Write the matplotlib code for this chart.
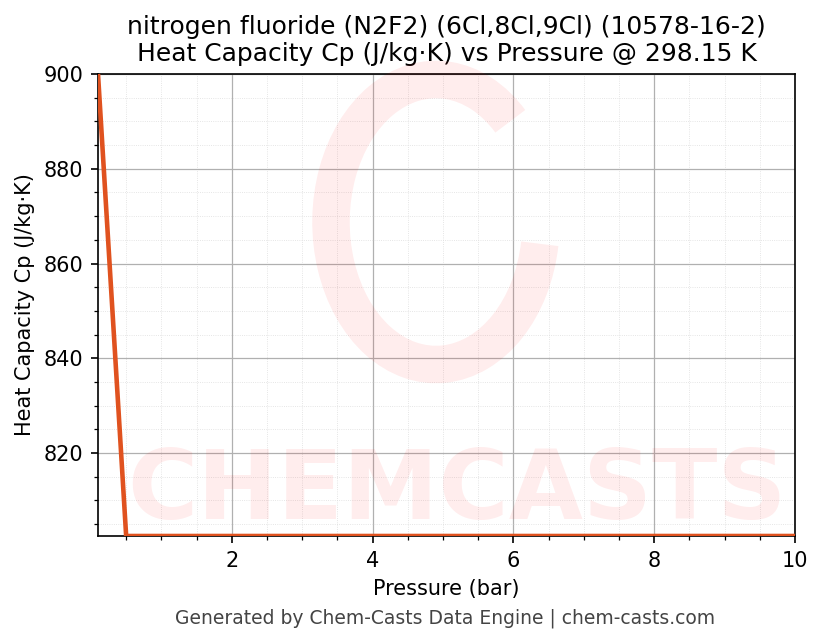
import matplotlib
matplotlib.use('Agg')
import matplotlib.pyplot as plt
from matplotlib.patches import Arc
from matplotlib.ticker import MultipleLocator

# data
pressure = [0.1, 0.5, 1, 2, 3, 4, 5, 6, 7, 8, 9, 10]
cp = [900.0, 802.5, 802.5, 802.5, 802.5, 802.5, 802.5, 802.5, 802.5, 802.5, 802.5, 802.5]

title = 'nitrogen fluoride (N2F2) (6Cl,8Cl,9Cl) (10578-16-2)\nHeat Capacity Cp (J/kg·K) vs Pressure @ 298.15 K'

fig = plt.figure(figsize=(823 / 150, 644 / 150), dpi=150)
ax = fig.add_axes([98 / 823, 1 - 536 / 644, (795 - 98) / 823, (536 - 74) / 644])

# watermark
fig.text(0.555, 0.235, 'CHEMCASTS', fontsize=46, fontweight='bold', color='#ff0000',
         alpha=0.07, ha='center', va='center', zorder=0)
fig.patches.append(Arc((436 / 823, 1 - 222 / 644), 210 / 823, 285 / 644, theta1=60, theta2=345,
                       transform=fig.transFigure, color='#ff0000', alpha=0.07, lw=18, zorder=0))

ax.plot(pressure, cp, color='#e0521f', lw=2.2, zorder=3)
ax.set_xlim(min(pressure), max(pressure))
ax.set_ylim(min(cp), max(cp))
ax.patch.set_alpha(0)

ax.xaxis.set_major_locator(MultipleLocator(2))
ax.xaxis.set_minor_locator(MultipleLocator(0.5))
ax.yaxis.set_major_locator(MultipleLocator(20))
ax.yaxis.set_minor_locator(MultipleLocator(5))
ax.grid(which='major', color='#b0b0b0', lw=0.6)
ax.grid(which='minor', color='#dddddd', lw=0.4, ls=':')

ax.set_xlabel('Pressure (bar)', fontsize=10)
ax.set_ylabel('Heat Capacity Cp (J/kg·K)', fontsize=10)
ax.set_title(title, fontsize=12)
ax.tick_params(labelsize=10)

fig.text(0.541, 0.04, 'Generated by Chem-Casts Data Engine | chem-casts.com', ha='center',
         va='center', fontsize=9, color='#444444')

plt.savefig('out.png', dpi=150)
